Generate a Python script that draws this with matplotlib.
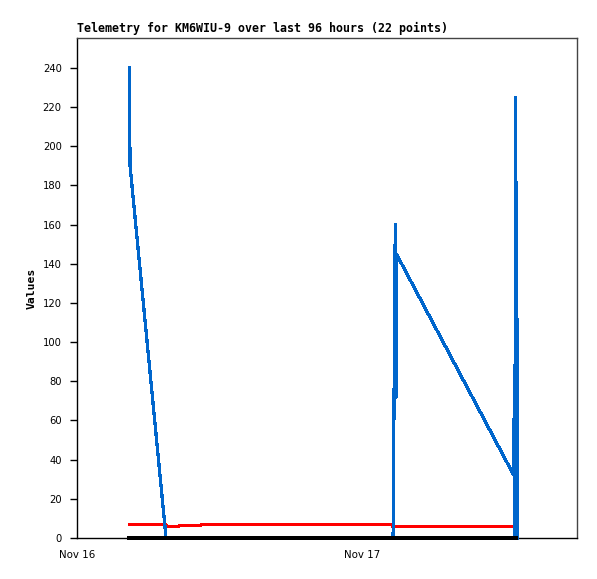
#!/usr/bin/env python3
"""
Telemetry chart for KM6WIU-9 (last 96 hours, 22 points).
Writes out.png at 597x579.
"""

import pandas as pd
import numpy as np
import matplotlib
matplotlib.use("Agg")
import matplotlib.pyplot as plt

nan = np.nan

# sample times (22 points)
times = [
    "2023-11-16 04:24", "2023-11-16 04:28", "2023-11-16 07:30", "2023-11-16 07:40",
    "2023-11-16 08:33", "2023-11-16 08:39", "2023-11-16 10:24", "2023-11-16 10:30",
    "2023-11-16 14:00", "2023-11-16 20:00", "2023-11-17 02:30", "2023-11-17 02:37",
    "2023-11-17 02:48", "2023-11-17 02:52", "2023-11-17 02:54", "2023-11-17 12:47",
    "2023-11-17 12:50", "2023-11-17 12:52", "2023-11-17 12:57", "2023-11-17 13:00",
    "2023-11-17 13:03", "2023-11-17 13:05",
]

# channel values
blue_vals = [240, 190, 0, 0, 0, 0, 0, 0, 0, 0, 0, 0,
             160, 72, 145, 32, 88, 0, 225, 0, 112, 0]
red_vals = [6.8, 6.8, 6.8, 5.8, 5.8, 6.3, 6.3, 6.8, 6.8, 6.8, 6.8, 5.8,
            5.8, 5.8, 5.8, 5.8, nan, nan, nan, nan, nan, nan]
black_vals = [0, 0, 0, 0, 0, 0, 0, 0, 0, 0, 0, 0,
              0, 0, 0, 0, 0, 0, 0, nan, nan, nan]

y_ticks = list(range(0, 241, 20))
x_ticks = ["2023-11-16", "2023-11-17"]
x_tick_labels = ["Nov 16", "Nov 17"]

df = pd.DataFrame({
    "time": pd.to_datetime(times),
    "blue": blue_vals,
    "red": red_vals,
    "black": black_vals,
})

fig = plt.figure(figsize=(5.97, 5.79), dpi=100)
ax = fig.add_axes([77 / 597, 1 - 538 / 579, 500 / 597, 500 / 579])

lw = 1.6
ax.plot(df["time"], df["red"], color="#ff0000", linewidth=lw,
        antialiased=False, clip_on=False, zorder=3)
ax.plot(df["time"], df["blue"], color="#0066cc", linewidth=lw,
        antialiased=False, clip_on=False, zorder=4)
# the zero channel sits on top so the flat part of the blue trace is hidden
ax.plot(df["time"], df["black"], color="black", linewidth=lw,
        antialiased=False, clip_on=False, zorder=5)

start = pd.Timestamp("2023-11-16 00:00")
ax.set_xlim(start, start + pd.Timedelta(hours=500 / 285 * 24))
ax.set_ylim(0, 500 / 39.17 * 20)

ax.set_yticks(y_ticks)
ax.set_yticklabels([str(v) for v in y_ticks], fontsize=7.2, family="DejaVu Sans")
ax.tick_params(axis="y", length=5, width=1, pad=6, color="black")

ax.set_xticks(pd.to_datetime(x_ticks))
ax.set_xticklabels(x_tick_labels, fontsize=7.4, family="DejaVu Sans")
ax.tick_params(axis="x", length=0, pad=9)

for side in ["left", "bottom"]:
    ax.spines[side].set_color("black")
    ax.spines[side].set_linewidth(1.0)
for side in ["top", "right"]:
    ax.spines[side].set_color("#444444")
    ax.spines[side].set_linewidth(1.0)

ax.set_title("Telemetry for KM6WIU-9 over last 96 hours (22 points)",
             loc="left", fontsize=8.4, fontweight="bold",
             family="DejaVu Sans Mono", pad=4)
ax.set_ylabel("Values", fontsize=8.2, fontweight="bold",
              family="DejaVu Sans Mono", labelpad=4)

fig.savefig("out.png", dpi=100)
